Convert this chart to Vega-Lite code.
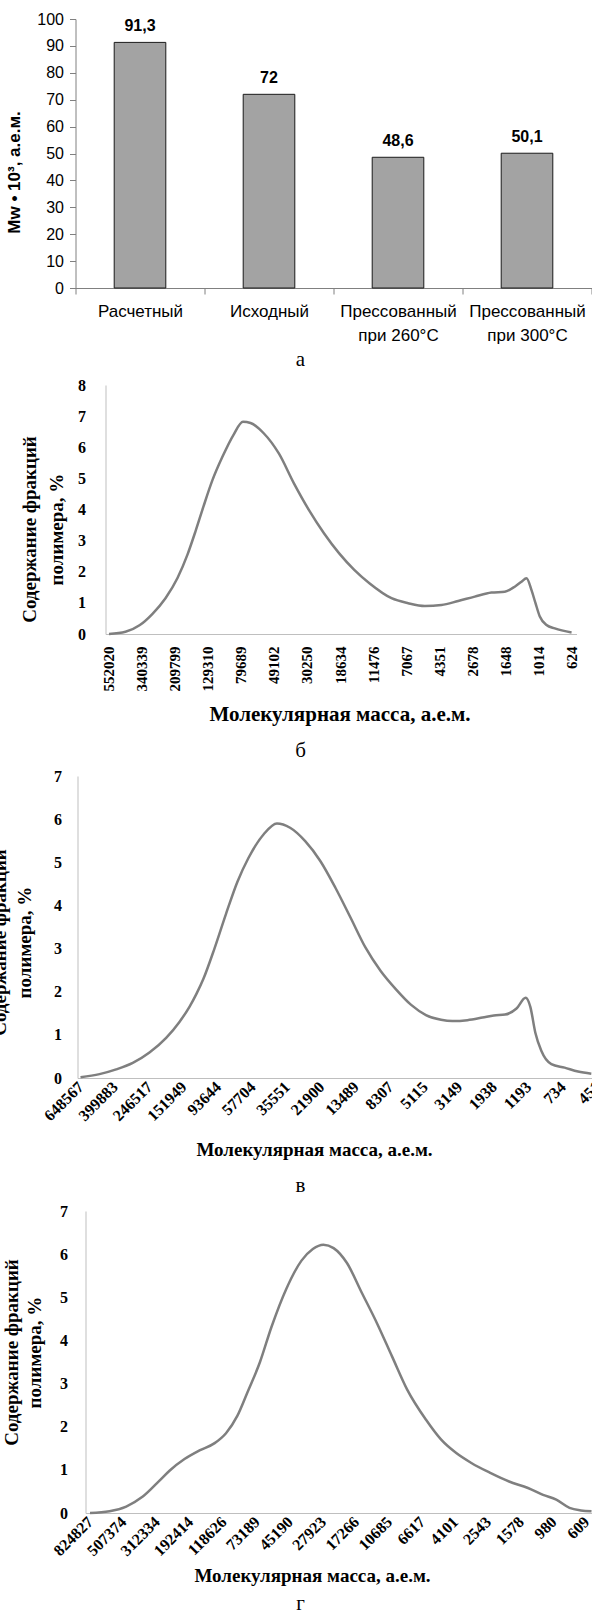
{
  "$schema": "https://vega.github.io/schema/vega-lite/v6.json",
  "padding": {"left": -9.5, "top": 11, "right": -12, "bottom": 0},
  "spacing": 7,
  "config": {"view": {"stroke": null}, "font": "Liberation Serif"},
  "datasets": {
    "bars": [
      {"cat": "Расчетный", "val": 91.3, "lbl": "91,3"},
      {"cat": "Исходный", "val": 72, "lbl": "72"},
      {"cat": "Прессованный при 260°C", "val": 48.6, "lbl": "48,6"},
      {"cat": "Прессованный при 300°C", "val": 50.1, "lbl": "50,1"}
    ],
    "b": [
      {"M": 552020, "v": 0}, {"M": 433400, "v": 0.07}, {"M": 352900, "v": 0.28}, {"M": 291600, "v": 0.65},
      {"M": 241000, "v": 1.15}, {"M": 202100, "v": 1.8}, {"M": 174600, "v": 2.55}, {"M": 155200, "v": 3.3},
      {"M": 138000, "v": 4.1}, {"M": 120900, "v": 4.95}, {"M": 104400, "v": 5.7}, {"M": 88870, "v": 6.4},
      {"M": 77330, "v": 6.82}, {"M": 69240, "v": 6.78}, {"M": 57060, "v": 6.45}, {"M": 45710, "v": 5.8},
      {"M": 36630, "v": 4.84}, {"M": 29370, "v": 3.98}, {"M": 23520, "v": 3.23}, {"M": 18860, "v": 2.59},
      {"M": 15120, "v": 2.06}, {"M": 12110, "v": 1.63}, {"M": 8757, "v": 1.15}, {"M": 6855, "v": 0.99},
      {"M": 5375, "v": 0.9}, {"M": 4206, "v": 0.93}, {"M": 3291, "v": 1.06}, {"M": 2582, "v": 1.2},
      {"M": 2021, "v": 1.33}, {"M": 1662, "v": 1.36}, {"M": 1436, "v": 1.52}, {"M": 1301, "v": 1.68},
      {"M": 1209, "v": 1.79}, {"M": 1123, "v": 1.41}, {"M": 1059, "v": 0.99}, {"M": 994, "v": 0.56},
      {"M": 901, "v": 0.29}, {"M": 798, "v": 0.18}, {"M": 624, "v": 0.05}
    ],
    "c": [
      {"M": 648567, "v": 0.02}, {"M": 496500, "v": 0.09}, {"M": 392600, "v": 0.2}, {"M": 310900, "v": 0.35},
      {"M": 245900, "v": 0.59}, {"M": 194400, "v": 0.93}, {"M": 161300, "v": 1.3}, {"M": 140100, "v": 1.65},
      {"M": 127000, "v": 1.95}, {"M": 115100, "v": 2.3}, {"M": 98580, "v": 3.0}, {"M": 83860, "v": 3.8},
      {"M": 71340, "v": 4.55}, {"M": 61130, "v": 5.1}, {"M": 49300, "v": 5.65}, {"M": 40950, "v": 5.9},
      {"M": 34020, "v": 5.8}, {"M": 27510, "v": 5.49}, {"M": 22250, "v": 5.03}, {"M": 17990, "v": 4.41},
      {"M": 14550, "v": 3.72}, {"M": 11770, "v": 3.02}, {"M": 9518, "v": 2.48}, {"M": 7698, "v": 2.06},
      {"M": 6226, "v": 1.7}, {"M": 5036, "v": 1.46}, {"M": 4072, "v": 1.35}, {"M": 3474, "v": 1.32},
      {"M": 2810, "v": 1.34}, {"M": 2273, "v": 1.4}, {"M": 1938, "v": 1.45}, {"M": 1654, "v": 1.47},
      {"M": 1409, "v": 1.61}, {"M": 1239, "v": 1.86}, {"M": 1160, "v": 1.65}, {"M": 1081, "v": 1.05},
      {"M": 994, "v": 0.63}, {"M": 863, "v": 0.32}, {"M": 716, "v": 0.24}, {"M": 593, "v": 0.15},
      {"M": 492, "v": 0.1}
    ],
    "d": [
      {"M": 824827, "v": 0}, {"M": 621400, "v": 0.04}, {"M": 487600, "v": 0.15}, {"M": 383100, "v": 0.38},
      {"M": 300600, "v": 0.75}, {"M": 259900, "v": 0.98}, {"M": 209100, "v": 1.25},
      {"M": 168200, "v": 1.45}, {"M": 134900, "v": 1.62}, {"M": 114400, "v": 1.85}, {"M": 97080, "v": 2.25},
      {"M": 83720, "v": 2.8}, {"M": 69830, "v": 3.5}, {"M": 59260, "v": 4.3}, {"M": 47600, "v": 5.2},
      {"M": 38220, "v": 5.85}, {"M": 32420, "v": 6.12}, {"M": 27800, "v": 6.22}, {"M": 23970, "v": 6.14},
      {"M": 19790, "v": 5.8}, {"M": 15890, "v": 5.1}, {"M": 12770, "v": 4.4}, {"M": 10260, "v": 3.63},
      {"M": 8233, "v": 2.86}, {"M": 6260, "v": 2.16}, {"M": 5024, "v": 1.7}, {"M": 4036, "v": 1.39},
      {"M": 3241, "v": 1.16}, {"M": 2462, "v": 0.93}, {"M": 1874, "v": 0.73}, {"M": 1424, "v": 0.58},
      {"M": 1144, "v": 0.42}, {"M": 944, "v": 0.31}, {"M": 779, "v": 0.12}, {"M": 661, "v": 0.06},
      {"M": 566, "v": 0.04}
    ]
  },
  "vconcat": [
    {
      "width": 516,
      "height": 269,
      "data": {"name": "bars"},
      "title": {"text": "а", "orient": "bottom", "font": "Liberation Serif", "fontSize": 21, "fontWeight": "normal", "color": "#000", "frame": "group", "anchor": "middle", "dx": -33, "offset": 6},
      "encoding": {
        "x": {
          "field": "cat", "type": "nominal", "sort": null,
          "scale": {"paddingInner": 0, "paddingOuter": 0},
          "axis": {
            "title": null, "tickBand": "extent", "labelAngle": 0, "labelAlign": "center", "labelBaseline": "top",
            "labelFont": "Liberation Sans", "labelFontSize": 17, "labelColor": "#000", "labelPadding": 9, "labelLineHeight": 24,
            "labelOverlap": false, "labelExpr": "indexof(datum.label, ' при ') > 0 ? [slice(datum.label, 0, indexof(datum.label, ' при ')), slice(datum.label, indexof(datum.label, ' при ') + 1)] : datum.label",
            "domainColor": "#808080", "tickColor": "#808080", "tickSize": 6
          }
        },
        "y": {
          "field": "val", "type": "quantitative",
          "scale": {"domain": [0, 100], "nice": false},
          "axis": {
            "title": "Mw • 10³, а.е.м.", "titleFont": "Liberation Sans", "titleFontSize": 17, "titleFontWeight": "bold", "titleColor": "#000",
            "titleAngle": 270, "titleAlign": "center", "titleBaseline": "middle", "titleX": -61, "titleY": 153,
            "values": [0, 10, 20, 30, 40, 50, 60, 70, 80, 90, 100],
            "labelFont": "Liberation Sans", "labelFontSize": 16, "labelColor": "#000", "labelPadding": 6,
            "tickSize": 6, "tickColor": "#808080", "domainColor": "#808080", "grid": false
          }
        }
      },
      "layer": [
        {"mark": {"type": "bar", "width": {"band": 0.4}, "fill": "#a3a3a3", "stroke": "#1a1a1a", "strokeWidth": 1}},
        {"mark": {"type": "text", "font": "Liberation Sans", "fontSize": 16, "fontWeight": "bold", "baseline": "alphabetic", "dy": -11, "color": "#000"},
         "encoding": {"text": {"field": "lbl"}}}
      ]
    },
    {
      "width": 516,
      "height": 249,
      "data": {"name": "b"},
      "title": {"text": "б", "orient": "bottom", "font": "Liberation Serif", "fontSize": 21, "fontWeight": "normal", "color": "#000", "frame": "group", "anchor": "middle", "dx": -33, "offset": 16},
      "mark": {"type": "line", "interpolate": "monotone", "color": "#7f7f7f", "strokeWidth": 2.5},
      "encoding": {
        "x": {
          "field": "M", "type": "quantitative",
          "scale": {"type": "log", "domain": [580.4, 581100], "reverse": true, "range": [30, 501]},
          "axis": {
            "values": [552020, 340339, 209799, 129310, 79689, 49102, 30250, 18634, 11476, 7067, 4351, 2678, 1648, 1014, 624],
            "format": "d", "labelAngle": -90, "labelAlign": "right", "labelBaseline": "middle", "labelPadding": 12,
            "labelFont": "Liberation Serif", "labelFontSize": 15, "labelFontWeight": "bold", "labelColor": "#000",
            "labelOverlap": false, "labelFlush": false, "labelBound": false,
            "ticks": false, "tickSize": 0, "domainColor": "#bfbfbf", "grid": false,
            "title": "Молекулярная масса, а.е.м.", "titleFont": "Liberation Serif", "titleFontSize": 21, "titleFontWeight": "bold", "titleColor": "#000",
            "titleX": 264, "titleY": 86, "titleBaseline": "alphabetic", "titleAlign": "center"
          }
        },
        "y": {
          "field": "v", "type": "quantitative",
          "scale": {"domain": [0, 8], "nice": false},
          "axis": {
            "values": [0, 1, 2, 3, 4, 5, 6, 7, 8], "offset": -30,
            "labelFont": "Liberation Serif", "labelFontSize": 16, "labelFontWeight": "bold", "labelColor": "#000", "labelPadding": 20,
            "ticks": false, "tickSize": 0, "domainColor": "#bfbfbf", "grid": false,
            "title": ["Содержание фракций", "полимера, %"], "titleFont": "Liberation Serif", "titleFontSize": 19, "titleFontWeight": "bold", "titleColor": "#000",
            "titleAngle": 270, "titleAlign": "center", "titleBaseline": "middle", "titleLineHeight": 27, "titleX": -76, "titleY": 144
          }
        }
      }
    },
    {
      "width": 516,
      "height": 302,
      "data": {"name": "c"},
      "title": {"text": "в", "orient": "bottom", "font": "Liberation Serif", "fontSize": 21, "fontWeight": "normal", "color": "#000", "frame": "group", "anchor": "middle", "dx": -33, "offset": 16},
      "mark": {"type": "line", "interpolate": "monotone", "color": "#7f7f7f", "strokeWidth": 2.5},
      "encoding": {
        "x": {
          "field": "M", "type": "quantitative",
          "scale": {"type": "log", "domain": [451, 676500], "reverse": true, "range": [2, 522]},
          "axis": {
            "values": [648567, 399883, 246517, 151949, 93644, 57704, 35551, 21900, 13489, 8307, 5115, 3149, 1938, 1193, 734, 451],
            "format": "d", "labelAngle": -45, "labelAlign": "right", "labelBaseline": "middle", "labelPadding": 6,
            "labelFont": "Liberation Serif", "labelFontSize": 16, "labelFontWeight": "bold", "labelColor": "#000",
            "labelOverlap": false, "labelFlush": false, "labelBound": false,
            "ticks": false, "tickSize": 0, "domainColor": "#bfbfbf", "grid": false,
            "title": "Молекулярная масса, а.е.м.", "titleFont": "Liberation Serif", "titleFontSize": 19, "titleFontWeight": "bold", "titleColor": "#000",
            "titleX": 238.5, "titleY": 77, "titleBaseline": "alphabetic", "titleAlign": "center"
          }
        },
        "y": {
          "field": "v", "type": "quantitative",
          "scale": {"domain": [0, 7], "nice": false},
          "axis": {
            "values": [0, 1, 2, 3, 4, 5, 6, 7], "offset": -2,
            "labelFont": "Liberation Serif", "labelFontSize": 16, "labelFontWeight": "bold", "labelColor": "#000", "labelPadding": 16,
            "ticks": false, "tickSize": 0, "domainColor": "#bfbfbf", "grid": false,
            "title": ["Содержание фракций", "полимера, %"], "titleFont": "Liberation Serif", "titleFontSize": 19, "titleFontWeight": "bold", "titleColor": "#000",
            "titleAngle": 270, "titleAlign": "center", "titleBaseline": "middle", "titleLineHeight": 25, "titleX": -78, "titleY": 166
          }
        }
      }
    },
    {
      "width": 516,
      "height": 302,
      "data": {"name": "d"},
      "title": {"text": "г", "orient": "bottom", "font": "Liberation Serif", "fontSize": 21, "fontWeight": "normal", "color": "#000", "frame": "group", "anchor": "middle", "dx": -33, "offset": 8},
      "mark": {"type": "line", "interpolate": "monotone", "color": "#7f7f7f", "strokeWidth": 2.5},
      "encoding": {
        "x": {
          "field": "M", "type": "quantitative",
          "scale": {"type": "log", "domain": [566, 880600], "reverse": true, "range": [10, 516]},
          "axis": {
            "values": [824827, 507374, 312334, 192414, 118626, 73189, 45190, 27923, 17266, 10685, 6617, 4101, 2543, 1578, 980, 609],
            "format": "d", "labelAngle": -45, "labelAlign": "right", "labelBaseline": "middle", "labelPadding": 6,
            "labelFont": "Liberation Serif", "labelFontSize": 16, "labelFontWeight": "bold", "labelColor": "#000",
            "labelOverlap": false, "labelFlush": false, "labelBound": false,
            "ticks": false, "tickSize": 0, "domainColor": "#bfbfbf", "grid": false,
            "title": "Молекулярная масса, а.е.м.", "titleFont": "Liberation Serif", "titleFontSize": 19, "titleFontWeight": "bold", "titleColor": "#000",
            "titleX": 236.5, "titleY": 68, "titleBaseline": "alphabetic", "titleAlign": "center"
          }
        },
        "y": {
          "field": "v", "type": "quantitative",
          "scale": {"domain": [0, 7], "nice": false},
          "axis": {
            "values": [0, 1, 2, 3, 4, 5, 6, 7], "offset": -10,
            "labelFont": "Liberation Serif", "labelFontSize": 16, "labelFontWeight": "bold", "labelColor": "#000", "labelPadding": 18,
            "ticks": false, "tickSize": 0, "domainColor": "#bfbfbf", "grid": false,
            "title": ["Содержание фракций", "полимера, %"], "titleFont": "Liberation Serif", "titleFontSize": 19, "titleFontWeight": "bold", "titleColor": "#000",
            "titleAngle": 270, "titleAlign": "center", "titleBaseline": "middle", "titleLineHeight": 23, "titleX": -74, "titleY": 141
          }
        }
      }
    }
  ]
}
